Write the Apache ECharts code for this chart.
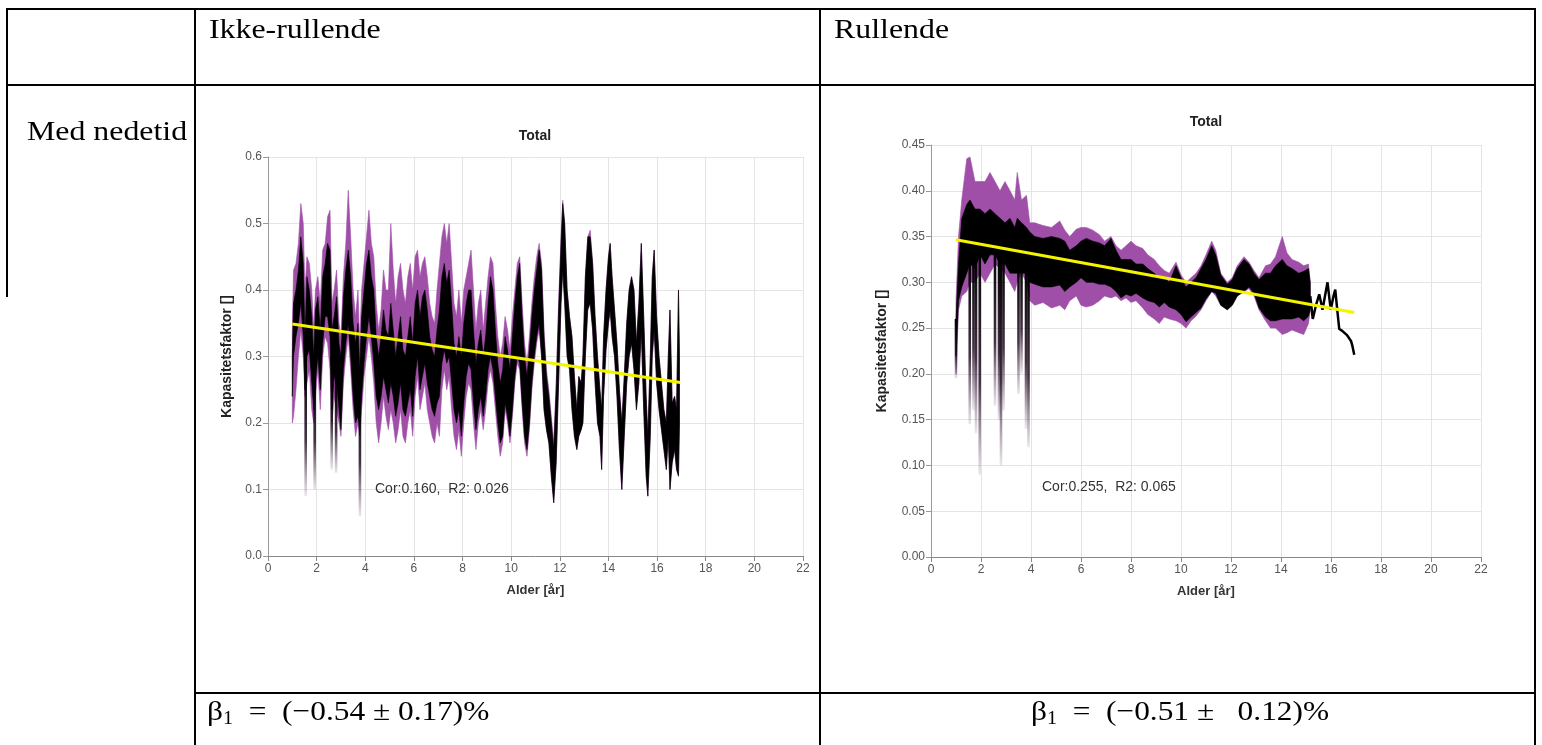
<!DOCTYPE html>
<html><head><meta charset="utf-8">
<script src="https://cdn.jsdelivr.net/npm/echarts@6/dist/echarts.min.js"></script>
<style>html,body{margin:0;padding:0;background:#fff;}#c{width:1542px;height:745px;}</style>
</head><body><div id="c"></div>
<script>
// ---------- tick values ----------
const xTicks = [0,2,4,6,8,10,12,14,16,18,20,22];
const yTicksL = [0,0.1,0.2,0.3,0.4,0.5,0.6];
const yTicksR = [0,0.05,0.10,0.15,0.20,0.25,0.30,0.35,0.40,0.45];

// ---------- left chart (Ikke-rullende) ----------
const leftX   = [1.00,1.05,1.15,1.25,1.35,1.45,1.52,1.60,1.70,1.80,1.88,1.95,2.05,2.15,2.25,2.35,2.45,2.55,2.63,2.72,2.82,2.92,3.00,3.10,3.20,3.30,3.40,3.50,3.60,3.70,3.77,3.85,3.95,4.05,4.15,4.25,4.35,4.45,4.55,4.65,4.75,4.85,4.95,5.05,5.15,5.25,5.35,5.45,5.55,5.65,5.75,5.85,5.95,6.05,6.15,6.25,6.35,6.45,6.55,6.65,6.75,6.85,6.95,7.05,7.15,7.25,7.35,7.45,7.55,7.65,7.75,7.85,7.95,8.05,8.15,8.25,8.35,8.45,8.55,8.65,8.75,8.85,8.95,9.05,9.15,9.25,9.35,9.45,9.55,9.65,9.75,9.85,9.95,10.05,10.15,10.25,10.35,10.45,10.55,10.65,10.75,10.85,10.95,11.05,11.15,11.25,11.35,11.45,11.55,11.65,11.75,11.85,11.95,12.05,12.12,12.20,12.30,12.40,12.50,12.60,12.70,12.78,12.88,12.95,13.05,13.15,13.25,13.35,13.45,13.55,13.65,13.72,13.80,13.90,14.00,14.07,14.15,14.25,14.35,14.45,14.55,14.65,14.75,14.85,14.95,15.05,15.15,15.25,15.35,15.45,15.55,15.62,15.72,15.80,15.88,15.98,16.08,16.18,16.28,16.38,16.46,16.53,16.62,16.72,16.80,16.88,16.92];
const leftPLo = [0.20,0.21,0.25,0.30,0.34,0.30,0.24,0.26,0.28,0.22,0.20,0.24,0.28,0.22,0.30,0.33,0.32,0.28,0.20,0.24,0.22,0.20,0.18,0.26,0.30,0.33,0.28,0.22,0.18,0.20,0.18,0.22,0.27,0.30,0.33,0.30,0.26,0.20,0.17,0.20,0.24,0.21,0.19,0.22,0.20,0.17,0.19,0.22,0.18,0.17,0.20,0.22,0.18,0.24,0.27,0.22,0.24,0.26,0.22,0.20,0.18,0.17,0.20,0.18,0.25,0.28,0.25,0.27,0.22,0.18,0.16,0.19,0.15,0.20,0.24,0.26,0.25,0.20,0.16,0.20,0.22,0.19,0.22,0.26,0.28,0.26,0.22,0.18,0.15,0.17,0.22,0.20,0.17,0.21,0.26,0.29,0.28,0.22,0.17,0.15,0.19,0.25,0.29,0.32,0.34,0.30,0.22,0.19,0.17,0.12,0.08,0.14,0.26,0.38,0.43,0.38,0.30,0.28,0.22,0.18,0.16,0.18,0.19,0.20,0.30,0.38,0.38,0.34,0.26,0.20,0.18,0.13,0.24,0.31,0.35,0.37,0.33,0.30,0.24,0.16,0.10,0.18,0.26,0.30,0.32,0.28,0.22,0.26,0.34,0.22,0.12,0.09,0.18,0.30,0.34,0.26,0.22,0.19,0.16,0.13,0.18,0.10,0.14,0.16,0.13,0.12,0.20];
const leftPHi = [0.34,0.43,0.44,0.47,0.53,0.50,0.40,0.45,0.44,0.40,0.34,0.40,0.42,0.38,0.46,0.47,0.51,0.52,0.38,0.40,0.43,0.35,0.33,0.42,0.47,0.55,0.48,0.40,0.36,0.40,0.32,0.40,0.44,0.48,0.52,0.47,0.45,0.38,0.34,0.37,0.43,0.40,0.40,0.50,0.43,0.38,0.42,0.44,0.40,0.38,0.42,0.44,0.40,0.45,0.46,0.42,0.44,0.45,0.42,0.38,0.36,0.35,0.40,0.44,0.48,0.50,0.47,0.50,0.44,0.38,0.36,0.40,0.35,0.40,0.42,0.44,0.46,0.40,0.34,0.38,0.40,0.34,0.38,0.42,0.45,0.44,0.38,0.33,0.30,0.32,0.36,0.34,0.31,0.36,0.40,0.44,0.45,0.38,0.32,0.29,0.33,0.38,0.42,0.45,0.47,0.44,0.34,0.28,0.25,0.21,0.17,0.26,0.38,0.48,0.535,0.50,0.40,0.36,0.33,0.27,0.22,0.27,0.26,0.30,0.42,0.48,0.49,0.44,0.36,0.30,0.25,0.22,0.33,0.40,0.45,0.47,0.42,0.37,0.32,0.25,0.20,0.27,0.35,0.40,0.42,0.40,0.32,0.38,0.47,0.36,0.24,0.18,0.30,0.42,0.46,0.36,0.30,0.26,0.22,0.20,0.30,0.37,0.23,0.24,0.22,0.40,0.30];
const leftBLo = [0.24,0.30,0.33,0.35,0.38,0.33,0.25,0.30,0.31,0.26,0.22,0.26,0.30,0.25,0.32,0.36,0.36,0.33,0.22,0.27,0.26,0.22,0.19,0.28,0.32,0.35,0.30,0.24,0.20,0.21,0.19,0.24,0.29,0.33,0.36,0.33,0.29,0.24,0.22,0.24,0.27,0.25,0.23,0.26,0.24,0.21,0.23,0.26,0.22,0.21,0.23,0.25,0.21,0.27,0.30,0.25,0.27,0.29,0.26,0.24,0.22,0.21,0.23,0.24,0.29,0.31,0.29,0.30,0.26,0.22,0.20,0.22,0.18,0.23,0.27,0.29,0.28,0.23,0.19,0.22,0.24,0.21,0.24,0.28,0.30,0.28,0.24,0.20,0.17,0.18,0.23,0.21,0.18,0.22,0.27,0.30,0.29,0.23,0.18,0.16,0.20,0.26,0.30,0.33,0.35,0.30,0.22,0.19,0.17,0.12,0.08,0.14,0.26,0.38,0.43,0.38,0.30,0.28,0.22,0.18,0.16,0.18,0.19,0.20,0.30,0.37,0.38,0.34,0.26,0.20,0.18,0.13,0.24,0.31,0.35,0.37,0.33,0.30,0.24,0.16,0.10,0.18,0.26,0.30,0.32,0.28,0.22,0.26,0.34,0.22,0.12,0.09,0.18,0.30,0.34,0.26,0.22,0.19,0.16,0.13,0.18,0.10,0.14,0.16,0.13,0.12,0.20];
const leftBHi = [0.30,0.38,0.40,0.43,0.48,0.44,0.33,0.42,0.40,0.36,0.30,0.37,0.39,0.34,0.42,0.44,0.47,0.46,0.34,0.36,0.39,0.32,0.30,0.39,0.43,0.46,0.42,0.35,0.32,0.35,0.28,0.36,0.40,0.44,0.46,0.42,0.40,0.33,0.30,0.33,0.37,0.34,0.33,0.38,0.34,0.30,0.33,0.36,0.31,0.30,0.33,0.36,0.32,0.38,0.40,0.36,0.39,0.40,0.37,0.33,0.31,0.30,0.34,0.37,0.42,0.44,0.41,0.43,0.38,0.32,0.30,0.33,0.30,0.35,0.38,0.40,0.40,0.34,0.29,0.32,0.34,0.30,0.33,0.38,0.42,0.40,0.34,0.29,0.26,0.28,0.33,0.31,0.28,0.33,0.38,0.42,0.44,0.36,0.30,0.27,0.31,0.36,0.40,0.43,0.46,0.43,0.33,0.27,0.24,0.20,0.16,0.25,0.37,0.47,0.53,0.50,0.40,0.36,0.33,0.27,0.22,0.27,0.26,0.30,0.42,0.48,0.48,0.44,0.36,0.30,0.25,0.22,0.33,0.40,0.45,0.47,0.42,0.37,0.32,0.25,0.20,0.27,0.35,0.40,0.42,0.40,0.32,0.38,0.47,0.36,0.24,0.18,0.30,0.42,0.46,0.36,0.30,0.26,0.22,0.20,0.30,0.37,0.23,0.24,0.22,0.40,0.30];
const leftSpikeX   = [1.55,1.92,2.62,2.80,3.78];
const leftSpikeTop = [0.30,0.28,0.30,0.28,0.26];
const leftSpikeLo  = [0.09,0.10,0.13,0.125,0.06];
const leftFitX = [1.0, 16.95];
const leftFitY = [0.349, 0.261];

// ---------- right chart (Rullende) ----------
const rightX   = [1.00,1.10,1.23,1.43,1.56,1.76,1.96,2.16,2.36,2.56,2.76,2.96,3.16,3.35,3.45,3.62,3.82,3.95,4.15,4.48,4.82,5.15,5.35,5.55,5.81,6.00,6.21,6.47,6.74,6.94,7.20,7.40,7.60,7.80,8.00,8.20,8.47,8.67,8.93,9.13,9.33,9.53,9.80,10.00,10.20,10.40,10.60,10.80,11.00,11.23,11.39,11.59,11.85,12.05,12.25,12.52,12.72,12.92,13.12,13.38,13.58,13.78,14.05,14.24,14.44,14.71,14.91,15.10,15.17];
const rightPLo = [0.20,0.27,0.285,0.29,0.30,0.30,0.31,0.30,0.31,0.32,0.315,0.31,0.30,0.29,0.30,0.31,0.30,0.28,0.275,0.278,0.272,0.275,0.27,0.28,0.285,0.275,0.273,0.275,0.28,0.285,0.283,0.285,0.28,0.283,0.278,0.28,0.272,0.265,0.26,0.255,0.262,0.26,0.258,0.255,0.25,0.258,0.263,0.27,0.28,0.29,0.285,0.275,0.27,0.275,0.285,0.29,0.293,0.285,0.27,0.258,0.25,0.25,0.243,0.245,0.248,0.245,0.243,0.255,0.27];
const rightPHi = [0.28,0.35,0.39,0.435,0.437,0.41,0.41,0.41,0.42,0.41,0.40,0.41,0.40,0.39,0.42,0.39,0.395,0.365,0.365,0.362,0.36,0.367,0.357,0.35,0.358,0.36,0.36,0.357,0.352,0.345,0.35,0.34,0.335,0.34,0.345,0.34,0.337,0.33,0.325,0.318,0.313,0.31,0.322,0.308,0.30,0.305,0.31,0.318,0.33,0.345,0.335,0.31,0.30,0.305,0.318,0.328,0.322,0.313,0.305,0.318,0.32,0.328,0.35,0.332,0.325,0.322,0.318,0.32,0.30];
const rightBLo = [0.22,0.28,0.295,0.31,0.32,0.315,0.33,0.32,0.33,0.33,0.32,0.32,0.31,0.31,0.31,0.31,0.31,0.30,0.298,0.295,0.295,0.297,0.29,0.295,0.30,0.305,0.30,0.30,0.298,0.298,0.295,0.29,0.283,0.287,0.285,0.288,0.283,0.28,0.278,0.273,0.278,0.273,0.27,0.265,0.257,0.262,0.267,0.272,0.282,0.29,0.288,0.275,0.27,0.275,0.285,0.29,0.295,0.288,0.272,0.262,0.258,0.258,0.26,0.26,0.26,0.262,0.258,0.263,0.27];
const rightBHi = [0.26,0.32,0.37,0.385,0.39,0.38,0.38,0.375,0.38,0.375,0.37,0.365,0.37,0.36,0.37,0.365,0.36,0.355,0.35,0.348,0.35,0.348,0.345,0.335,0.34,0.345,0.348,0.345,0.343,0.34,0.348,0.335,0.325,0.325,0.325,0.32,0.32,0.315,0.31,0.305,0.305,0.30,0.318,0.305,0.295,0.30,0.305,0.315,0.325,0.34,0.33,0.308,0.298,0.303,0.315,0.325,0.32,0.31,0.303,0.31,0.31,0.318,0.325,0.318,0.315,0.31,0.312,0.315,0.30];
const rightTailX = [15.17,15.27,15.40,15.53,15.66,15.86,15.99,16.10,16.17,16.25,16.33,16.45,16.53,16.65,16.73,16.80,16.86,16.93];
const rightTailY = [0.285,0.26,0.275,0.287,0.27,0.30,0.27,0.285,0.292,0.27,0.249,0.247,0.245,0.242,0.24,0.236,0.23,0.221];
const rightSpikeX   = [1.00,1.55,1.70,1.80,1.95,2.56,2.72,2.80,2.90,3.50,3.62,3.80,3.90];
const rightSpikeTop = [0.26,0.33,0.33,0.34,0.34,0.34,0.33,0.33,0.33,0.32,0.32,0.32,0.31];
const rightSpikeLo  = [0.195,0.145,0.16,0.135,0.09,0.165,0.15,0.10,0.16,0.178,0.20,0.14,0.12];
const rightFitX = [1.0, 16.93];
const rightFitY = [0.3465, 0.267];

// ---------- texts ----------
const colHeaders = ['Ikke-rullende', 'Rullende'];
const rowHeader = 'Med nedetid';
const chartTitle = 'Total';
const xName = 'Alder [år]';
const yName = 'Kapasitetsfaktor []';
const statTexts = ['Cor:0.160,  R2: 0.026', 'Cor:0.255,  R2: 0.065'];
const betaTexts = ['\u2002=\u2002(−0.54 ± 0.17)%', '\u2002=\u2002(−0.51 ±\u2002 0.12)%'];

const PURPLE = '#a04fa8';
const BLACK = '#000000';
const YELLOW = '#f4f400';

function band(idx, xs, lo, hi, color, z) {
  return {
    type: 'custom', xAxisIndex: idx, yAxisIndex: idx, z: z, silent: true, clip: true,
    data: [[0, 0]],
    renderItem: function (params, api) {
      const pts = [];
      for (let i = 0; i < xs.length; i++) pts.push(api.coord([xs[i], hi[i]]));
      for (let i = xs.length - 1; i >= 0; i--) pts.push(api.coord([xs[i], lo[i]]));
      return { type: 'polygon', shape: { points: pts }, style: { fill: color, stroke: color, lineWidth: 0.6 } };
    }
  };
}
function spikes(idx, xs, tops, los, z) {
  return {
    type: 'custom', xAxisIndex: idx, yAxisIndex: idx, z: z, silent: true, clip: true,
    data: xs.map((x, i) => [x, tops[i], los[i]]),
    renderItem: function (params, api) {
      const p1 = api.coord([api.value(0), api.value(1)]);
      const p2 = api.coord([api.value(0), api.value(2)]);
      return {
        type: 'rect',
        shape: { x: p1[0] - 1.3, y: p1[1], width: 2.6, height: p2[1] - p1[1] },
        style: {
          fill: new echarts.graphic.LinearGradient(0, 0, 0, 1, [
            { offset: 0, color: 'rgba(0,0,0,1)' },
            { offset: 0.6, color: 'rgba(20,0,20,0.8)' },
            { offset: 1, color: 'rgba(60,20,60,0.1)' }
          ])
        }
      };
    }
  };
}
function fitLine(idx, xs, ys) {
  return {
    type: 'line', xAxisIndex: idx, yAxisIndex: idx, z: 6, silent: true,
    showSymbol: false, symbol: 'none',
    data: xs.map((x, i) => [x, ys[i]]),
    lineStyle: { color: YELLOW, width: 3 }
  };
}

function xAxisCfg(gi) {
  return {
    type: 'value', gridIndex: gi,
    min: xTicks[0], max: xTicks[xTicks.length - 1], interval: xTicks[1] - xTicks[0],
    name: xName, nameLocation: 'middle', nameGap: 28,
    nameTextStyle: { fontFamily: 'Liberation Sans', fontWeight: 'bold', fontSize: 13, color: '#333' },
    axisLine: { show: true, lineStyle: { color: '#888', width: 1 } },
    axisTick: { show: true, length: 5, lineStyle: { color: '#888' } },
    axisLabel: { fontFamily: 'Liberation Sans', fontSize: 12, color: '#555', margin: 7 },
    splitLine: { show: true, lineStyle: { color: '#e4e4e4', width: 1 } }
  };
}
function yAxisCfg(gi, ticks, dec, gap) {
  return {
    type: 'value', gridIndex: gi,
    min: ticks[0], max: ticks[ticks.length - 1], interval: ticks[1] - ticks[0],
    name: yName, nameLocation: 'middle', nameGap: gap, nameRotate: 90,
    nameTextStyle: { fontFamily: 'Liberation Sans', fontWeight: 'bold', fontSize: 14, color: '#222' },
    axisLine: { show: true, lineStyle: { color: '#999', width: 1 } },
    axisTick: { show: true, length: 5, lineStyle: { color: '#999' } },
    axisLabel: { fontFamily: 'Liberation Sans', fontSize: 12, color: '#555', margin: 6,
      formatter: v => v.toFixed(dec) },
    splitLine: { show: true, lineStyle: { color: '#e4e4e4', width: 1 } }
  };
}

const serifText = (txt, x, y, align) => ({
  type: 'text', x: x, y: y, scaleX: 1.18, z: 10,
  style: { text: txt, fontFamily: 'Liberation Serif', fontSize: 27, fill: '#000',
           align: align || 'left', verticalAlign: 'middle' }
});
const betaText = (txt, x, y, align) => ({
  type: 'text', x: x, y: y, scaleX: 1.12, z: 10,
  style: {
    text: '{a|β}{b|1}{a|' + txt + '}',
    align: align, verticalAlign: 'middle',
    rich: {
      a: { fontFamily: 'Liberation Serif', fontSize: 28, lineHeight: 30, fill: '#000' },
      b: { fontFamily: 'Liberation Serif', fontSize: 18, lineHeight: 17, verticalAlign: 'bottom', fill: '#000' }
    }
  }
});
const ln = (x1, y1, x2, y2) => ({ type: 'line', z: 10, shape: { x1, y1, x2, y2 }, style: { stroke: '#000', lineWidth: 2 } });

const option = {
  animation: false,
  backgroundColor: '#ffffff',
  grid: [
    { left: 268, top: 157, width: 535, height: 399 },
    { left: 931, top: 145, width: 550, height: 412 }
  ],
  xAxis: [xAxisCfg(0), xAxisCfg(1)],
  yAxis: [yAxisCfg(0, yTicksL, 1, 34), yAxisCfg(1, yTicksR, 2, 42)],
  series: [
    band(0, leftX, leftPLo, leftPHi, PURPLE, 2),
    band(0, leftX, leftBLo, leftBHi, BLACK, 3),
    spikes(0, leftSpikeX, leftSpikeTop, leftSpikeLo, 3),
    fitLine(0, leftFitX, leftFitY),
    band(1, rightX, rightPLo, rightPHi, PURPLE, 2),
    band(1, rightX, rightBLo, rightBHi, BLACK, 3),
    spikes(1, rightSpikeX, rightSpikeTop, rightSpikeLo, 3),
    {
      type: 'line', xAxisIndex: 1, yAxisIndex: 1, z: 4, silent: true, showSymbol: false, symbol: 'none',
      data: rightTailX.map((x, i) => [x, rightTailY[i]]),
      lineStyle: { color: BLACK, width: 2.5 }
    },
    fitLine(1, rightFitX, rightFitY)
  ],
  graphic: [
    // table lines
    ln(6, 9, 1536, 9),
    ln(6, 85, 1536, 85),
    ln(194, 693, 1536, 693),
    ln(7, 8, 7, 297),
    ln(195, 8, 195, 745),
    ln(820, 8, 820, 745),
    ln(1535, 8, 1535, 745),
    // table texts
    serifText(colHeaders[0], 209, 31),
    serifText(colHeaders[1], 834, 31),
    serifText(rowHeader, 27, 133),
    betaText(betaTexts[0], 207, 713, 'left'),
    betaText(betaTexts[1], 1180, 713, 'center'),
    // chart titles
    { type: 'text', x: 535, y: 136, z: 10, style: { text: chartTitle, fontFamily: 'Liberation Sans', fontWeight: 'bold', fontSize: 14, fill: '#222', align: 'center', verticalAlign: 'middle' } },
    { type: 'text', x: 1206, y: 122, z: 10, style: { text: chartTitle, fontFamily: 'Liberation Sans', fontWeight: 'bold', fontSize: 14, fill: '#222', align: 'center', verticalAlign: 'middle' } },
    // stats
    { type: 'text', x: 375, y: 489, z: 10, style: { text: statTexts[0], fontFamily: 'Liberation Sans', fontSize: 14, fill: '#333', align: 'left', verticalAlign: 'middle' } },
    { type: 'text', x: 1042, y: 487, z: 10, style: { text: statTexts[1], fontFamily: 'Liberation Sans', fontSize: 14, fill: '#333', align: 'left', verticalAlign: 'middle' } }
  ]
};
const chart = echarts.init(document.getElementById('c'));
chart.setOption(option);
</script></body></html>
